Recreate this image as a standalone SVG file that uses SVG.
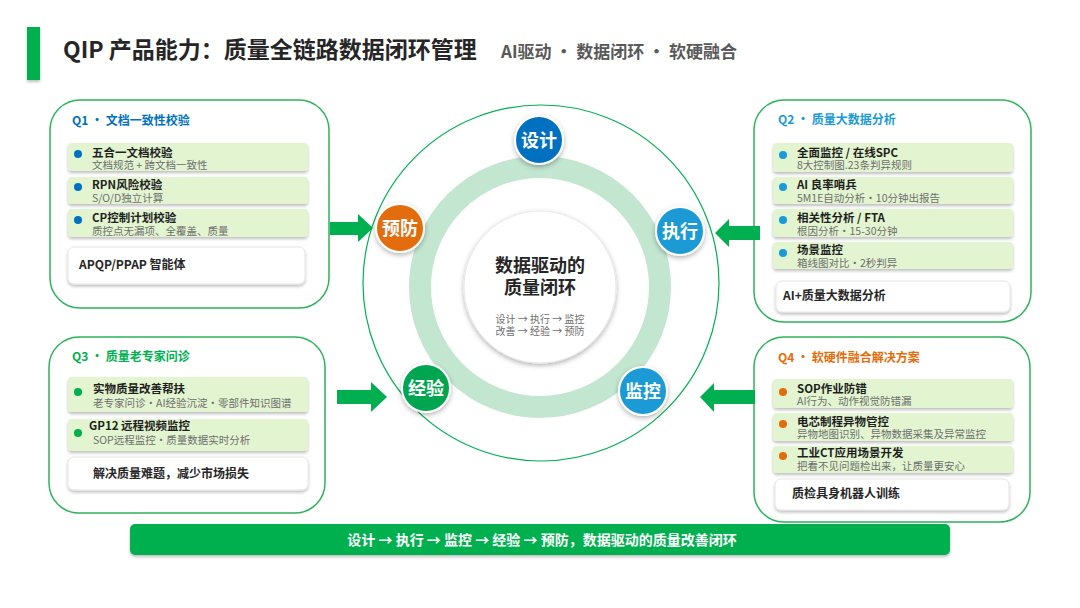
<svg xmlns="http://www.w3.org/2000/svg" width="1080" height="608" viewBox="0 0 1080 608">
<defs>
<filter id="sh" x="-20%" y="-20%" width="140%" height="160%">
<feDropShadow dx="0" dy="2" stdDeviation="1.5" flood-color="#000" flood-opacity="0.25"/>
</filter>
<filter id="shc" x="-30%" y="-30%" width="160%" height="160%">
<feDropShadow dx="0" dy="2" stdDeviation="2.5" flood-color="#000" flood-opacity="0.3"/>
</filter>
<style>
text{font-family:"Noto Sans CJK SC","Liberation Sans",sans-serif;}
.qbox{fill:#fff;stroke:#2db35a;stroke-width:1.5;}
.item{fill:#e2f4d0;filter:url(#sh);}
.wbox{fill:#fff;stroke:#e6e6e6;stroke-width:1;filter:url(#sh);}
.it{font-size:11.5px;font-weight:bold;fill:#1f1f1f;}
.is{font-size:10.5px;fill:#6e6e6e;}
.wt{font-size:12px;font-weight:bold;fill:#262626;}
.qt{font-size:12px;font-weight:bold;}
.nd{stroke:#fff;stroke-width:2;filter:url(#shc);}
.ndt{font-size:18px;font-weight:bold;fill:#fff;text-anchor:middle;}
.arr{fill:#00b050;}
</style>
</defs>
<rect width="1080" height="608" fill="#fff"/>

<g id="header">
<rect x="27" y="27" width="13" height="53" fill="#00b050" filter="url(#sh)"/>
<text x="63" y="58" font-size="23" font-weight="bold" fill="#262626">QIP 产品能力：质量全链路数据闭环管理</text>
<text x="501" y="58" font-size="17" font-weight="bold" fill="#595959">AI驱动 • 数据闭环 • 软硬融合</text>
</g>

<g id="q1">
<rect class="qbox" x="50" y="100" width="279" height="208" rx="30"/>
<text class="qt" x="72" y="125" fill="#0070c0">Q1 • 文档一致性校验</text>
<rect class="item" x="68" y="143" width="240" height="28" rx="4"/>
<circle cx="78" cy="154" r="4" fill="#0070c0"/>
<text class="it" x="92" y="156.5">五合一文档校验</text>
<text class="is" x="92" y="169">文档规范 + 跨文档一致性</text>
<rect class="item" x="68" y="177" width="240" height="27" rx="4"/>
<circle cx="78" cy="187" r="4" fill="#0070c0"/>
<text class="it" x="92" y="189">RPN风险校验</text>
<text class="is" x="92" y="201.5">S/O/D独立计算</text>
<rect class="item" x="68" y="209" width="240" height="28" rx="4"/>
<circle cx="78" cy="220" r="4" fill="#0070c0"/>
<text class="it" x="92" y="222">CP控制计划校验</text>
<text class="is" x="92" y="234.5">质控点无漏项、全覆盖、质量</text>
<rect class="wbox" x="68" y="247" width="237" height="37" rx="6"/>
<text class="wt" x="79" y="269">APQP/PPAP 智能体</text>
</g>

<g id="q2">
<rect class="qbox" x="754" y="100" width="277" height="222" rx="30"/>
<text class="qt" x="778" y="124" fill="#1a9ad6">Q2 • 质量大数据分析</text>
<rect class="item" x="773" y="143" width="240" height="29" rx="4"/>
<circle cx="783" cy="155" r="4" fill="#1a9ad6"/>
<text class="it" x="797" y="156.5">全面监控 / 在线SPC</text>
<text class="is" x="797" y="169">8大控制图.23条判异规则</text>
<rect class="item" x="773" y="177" width="240" height="27" rx="4"/>
<circle cx="783" cy="187" r="4" fill="#1a9ad6"/>
<text class="it" x="797" y="189">AI 良率哨兵</text>
<text class="is" x="797" y="201.5">5M1E自动分析·10分钟出报告</text>
<rect class="item" x="773" y="209" width="240" height="28" rx="4"/>
<circle cx="783" cy="220" r="4" fill="#1a9ad6"/>
<text class="it" x="797" y="222">相关性分析 / FTA</text>
<text class="is" x="797" y="234.5">根因分析·15-30分钟</text>
<rect class="item" x="773" y="242" width="240" height="27" rx="4"/>
<circle cx="783" cy="253" r="4" fill="#1a9ad6"/>
<text class="it" x="797" y="254">场景监控</text>
<text class="is" x="797" y="266.5">箱线图对比·2秒判异</text>
<rect class="wbox" x="776" y="281" width="234" height="31" rx="6"/>
<text class="wt" x="783" y="300">AI+质量大数据分析</text>
</g>

<g id="q3">
<rect class="qbox" x="49" y="337" width="276" height="176" rx="30"/>
<text class="qt" x="72" y="361" fill="#00b050">Q3 • 质量老专家问诊</text>
<rect class="item" x="68" y="377" width="240" height="35" rx="4"/>
<circle cx="78" cy="392" r="4" fill="#00b050"/>
<text class="it" x="93" y="393">实物质量改善帮扶</text>
<text class="is" x="93" y="406.5">老专家问诊·AI经验沉淀·零部件知识图谱</text>
<rect class="item" x="68" y="419" width="240" height="32" rx="4"/>
<circle cx="78" cy="433" r="4" fill="#00b050"/>
<text class="it" x="89" y="429.5">GP12 远程视频监控</text>
<text class="is" x="93" y="443.5">SOP远程监控·质量数据实时分析</text>
<rect class="wbox" x="68" y="457" width="240" height="33" rx="6"/>
<text class="wt" x="93" y="478">解决质量难题，减少市场损失</text>
</g>

<g id="q4">
<rect class="qbox" x="754" y="337" width="276" height="185" rx="30"/>
<text class="qt" x="778" y="362" fill="#e36c09">Q4 • 软硬件融合解决方案</text>
<rect class="item" x="773" y="379" width="240" height="29" rx="4"/>
<circle cx="783" cy="392" r="4" fill="#e36c09"/>
<text class="it" x="797" y="392.5">SOP作业防错</text>
<text class="is" x="797" y="405">AI行为、动作视觉防错漏</text>
<rect class="item" x="773" y="413" width="240" height="28" rx="4"/>
<circle cx="783" cy="424" r="4" fill="#e36c09"/>
<text class="it" x="797" y="425.5">电芯制程异物管控</text>
<text class="is" x="797" y="438">异物地图识别、异物数据采集及异常监控</text>
<rect class="item" x="773" y="446" width="240" height="27" rx="4"/>
<circle cx="783" cy="456" r="4" fill="#e36c09"/>
<text class="it" x="797" y="457">工业CT应用场景开发</text>
<text class="is" x="797" y="469.5">把看不见问题检出来，让质量更安心</text>
<rect class="wbox" x="775" y="479" width="234" height="31" rx="6"/>
<text class="wt" x="792" y="498">质检具身机器人训练</text>
</g>

<g id="loop">
<circle cx="541" cy="283" r="178" fill="#fff" stroke="#00b050" stroke-width="1.2"/>
<circle cx="540" cy="287" r="120" fill="none" stroke="#c2e6d0" stroke-width="22"/>
</g>

<g id="core">
<circle cx="540" cy="287" r="76" fill="#fff" stroke="#e8e8e8" stroke-width="1" filter="url(#shc)"/>
<text x="540" y="272" font-size="18" font-weight="bold" fill="#262626" text-anchor="middle">数据驱动的</text>
<text x="540" y="294" font-size="18" font-weight="bold" fill="#262626" text-anchor="middle">质量闭环</text>
<text x="540" y="323" font-size="10" fill="#6e6e6e" text-anchor="middle">设计 → 执行 → 监控</text>
<text x="540" y="335" font-size="10" fill="#6e6e6e" text-anchor="middle">改善 → 经验 → 预防</text>
</g>

<g id="node-design">
<circle class="nd" cx="539" cy="140" r="24" fill="#0070c0"/>
<text class="ndt" x="539" y="146.5">设计</text>
</g>
<g id="node-execute">
<circle class="nd" cx="680" cy="231" r="24" fill="#1a9ad6"/>
<text class="ndt" x="680" y="237.5">执行</text>
</g>
<g id="node-monitor">
<circle class="nd" cx="643" cy="391" r="24" fill="#1a9ad6"/>
<text class="ndt" x="643" y="397.5">监控</text>
</g>
<g id="node-experience">
<circle class="nd" cx="426" cy="388" r="24" fill="#00a650"/>
<text class="ndt" x="426" y="394.5">经验</text>
</g>
<g id="node-prevent">
<circle class="nd" cx="400" cy="228" r="24" fill="#e36c09"/>
<text class="ndt" x="400" y="234.5">预防</text>
</g>

<g id="connectors">
<polygon class="arr" points="330,222 358,222 358,214 373,228 358,242 358,235 330,235"/>
<polygon class="arr" points="337,390 371,390 371,382 387,397 371,412 371,404 337,404"/>
<polygon class="arr" points="760,226 729,226 729,219 715,233 729,247 729,240 760,240"/>
<polygon class="arr" points="755,390 714,390 714,383 700,397 714,412 714,404 755,404"/>
</g>

<g id="banner">
<rect x="130" y="524" width="820" height="31" rx="5" fill="#00b050" filter="url(#sh)"/>
<text x="542" y="545" font-size="14" font-weight="bold" fill="#fff" text-anchor="middle">设计 → 执行 → 监控  → 经验 → 预防，数据驱动的质量改善闭环</text>
</g>
</svg>
